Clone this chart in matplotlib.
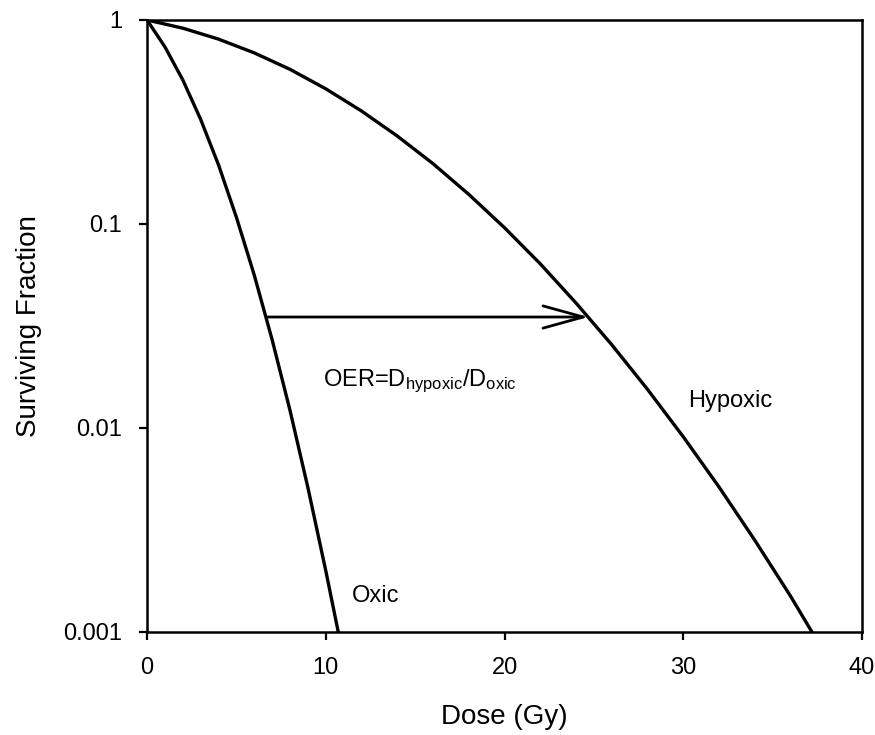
import matplotlib
matplotlib.use("Agg")
import matplotlib.pyplot as plt
from matplotlib.ticker import FixedLocator, FixedFormatter, NullLocator

plt.rcParams['font.family'] = ['Liberation Sans', 'DejaVu Sans']
plt.rcParams['mathtext.default'] = 'regular'

# Data
oxic_dose = [0, 1, 2, 3, 4, 5, 6, 7, 8, 9, 10, 10.7]
oxic_sf = [1.0, 0.739, 0.509, 0.326, 0.195, 0.108, 0.0562, 0.0271, 0.0122, 0.00511, 0.0020, 0.001]

hyp_dose = [0, 2, 4, 6, 8, 10, 12, 14, 16, 18, 20, 22, 24, 26, 28, 30, 32, 34, 36, 37.2]
hyp_sf = [1.0, 0.912, 0.806, 0.690, 0.573, 0.460, 0.358, 0.270, 0.1976, 0.1398, 0.0959,
          0.0638, 0.0410, 0.0256, 0.01547, 0.00906, 0.00514, 0.00282, 0.00150, 0.001]

arrow_start = (6.76, 0.035)
arrow_end = (24.7, 0.035)

x_ticks = [0, 10, 20, 30, 40]
y_ticks = [0.001, 0.01, 0.1, 1]
y_ticklabels = ['0.001', '0.01', '0.1', '1']

fig = plt.figure(figsize=(8.75, 7.35), dpi=100)
ax = fig.add_axes([147/875, 1-632/735, (862-147)/875, (632-20)/735])

ax.plot(oxic_dose, oxic_sf, color='black', lw=2.4, solid_capstyle='round')
ax.plot(hyp_dose, hyp_sf, color='black', lw=2.4, solid_capstyle='round')

ax.annotate('', xy=arrow_end, xytext=arrow_start,
            arrowprops=dict(arrowstyle='->,head_length=2.9,head_width=0.8',
                            color='black', lw=2.0, mutation_scale=10,
                            shrinkA=0, shrinkB=0))

ax.set_yscale('log')
ax.set_xlim(0, 40)
ax.set_ylim(0.001, 1)
ax.xaxis.set_major_locator(FixedLocator(x_ticks))
ax.yaxis.set_major_locator(FixedLocator(y_ticks))
ax.yaxis.set_major_formatter(FixedFormatter(y_ticklabels))
ax.yaxis.set_minor_locator(NullLocator())

for s in ax.spines.values():
    s.set_linewidth(1.8)
ax.tick_params(direction='out', length=6, width=1.6, labelsize=17)
ax.tick_params(axis='x', pad=12)
ax.tick_params(axis='y', pad=12)

ax.set_xlabel('Dose (Gy)', fontsize=20, labelpad=18)
ax.set_ylabel('Surviving Fraction', fontsize=20, labelpad=15)

ax.text(9.85, 0.0161, r'OER=D$_{hypoxic}$/D$_{oxic}$', fontsize=17, va='baseline', ha='left')
ax.text(30.27, 0.01267, 'Hypoxic', fontsize=17, va='baseline', ha='left')
ax.text(11.47, 0.0014, 'Oxic', fontsize=17, va='baseline', ha='left')

fig.savefig('out.png', dpi=100)
